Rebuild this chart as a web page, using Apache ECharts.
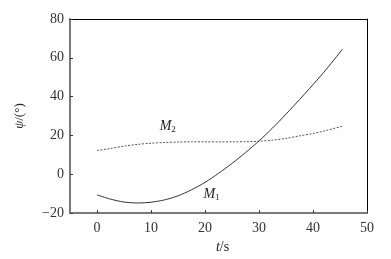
<!DOCTYPE html>
<html><head><meta charset="utf-8">
<script src="https://cdn.jsdelivr.net/npm/echarts@6/dist/echarts.min.js"></script>
<style>html,body{margin:0;padding:0;background:#fff}#c{width:391px;height:259px}</style>
</head><body><div id="c"></div>
<script>
var tValues = [0, 2.5, 5, 7.5, 10, 12.5, 15, 17.5, 20, 22.5, 25, 27.5, 30, 32.5, 35, 37.5, 40, 42.5, 45.5];
var m1Values = [-10.6, -12.8, -14.3, -14.8, -14.4, -13.2, -11.1, -8.0, -4.2, 0.5, 5.6, 11.2, 17.2, 23.8, 31.0, 38.5, 46.2, 54.2, 64.6];
var m2Values = [12.2, 13.3, 14.5, 15.4, 16.0, 16.4, 16.6, 16.7, 16.7, 16.7, 16.7, 16.8, 17.0, 17.6, 18.5, 19.8, 21.0, 22.6, 24.8];
var xTicks = [0, 10, 20, 30, 40, 50];
var curveNames = ['M1', 'M2'];

function pairs(xs, ys){ return xs.map(function(x,i){ return [x, ys[i]]; }); }
var font = 'Liberation Serif';
var chart = echarts.init(document.getElementById('c'), null, {renderer:'canvas'});
var gray = '#7a7a7a';
chart.setOption({
  animation:false,
  backgroundColor:'#fff',
  grid:{left:70, top:19, right:24, bottom:42, containLabel:false},
  xAxis:[{
    type:'value', min:-5, max:50,
    name:'{i|t}/s', nameLocation:'middle', nameGap:18,
    nameTextStyle:{fontFamily:font, fontSize:14, color:'#222', padding:[0,0,0,8], rich:{i:{fontFamily:font, fontStyle:'italic', fontSize:14, color:'#222'}}},
    axisLine:{show:true, onZero:false, lineStyle:{color:gray, width:2}},
    axisTick:{show:true, inside:true, length:3, customValues:xTicks, lineStyle:{color:'#333'}},
    axisLabel:{customValues:xTicks, fontFamily:font, fontSize:14, color:'#333', margin:8},
    splitLine:{show:false}
  },{
    type:'value', min:-5, max:50, position:'top',
    axisLine:{show:true, onZero:false, lineStyle:{color:'#000', width:1}},
    axisTick:{show:false}, axisLabel:{show:false}, splitLine:{show:false}
  }],
  yAxis:[{
    type:'value', min:-20, max:80, interval:20,
    name:'{i|ψ}/(°)', nameLocation:'middle', nameGap:44,
    nameTextStyle:{fontFamily:font, fontSize:13, color:'#222', rich:{i:{fontFamily:font, fontStyle:'italic', fontSize:13, color:'#222'}}},
    axisLine:{show:true, onZero:false, lineStyle:{color:gray, width:2}},
    axisTick:{show:true, inside:true, length:3, lineStyle:{color:'#333'}},
    axisLabel:{fontFamily:font, fontSize:14, color:'#333', margin:6,
      formatter:function(v){ return v < 0 ? '\u2212' + Math.abs(v) : String(v); }},
    splitLine:{show:false}
  },{
    type:'value', min:-20, max:80, position:'right',
    axisLine:{show:true, onZero:false, lineStyle:{color:'#000', width:1}},
    axisTick:{show:false}, axisLabel:{show:false}, splitLine:{show:false}
  }],
  series:[{
    name:curveNames[0], type:'line', smooth:0.3, symbol:'none',
    data:pairs(tValues, m1Values),
    lineStyle:{color:'#333', width:1}
  },{
    name:curveNames[1], type:'line', smooth:0.3, symbol:'none',
    data:pairs(tValues, m2Values),
    lineStyle:{color:'#555', width:1, type:[2,1.5]}
  }]
});
function labelAt(t, v, sub){
  var p = chart.convertToPixel({gridIndex:0}, [t, v]);
  return {type:'text', x:p[0], y:p[1], style:{
    text:'{m|M}{s|' + sub + '}', align:'center', verticalAlign:'middle',
    rich:{m:{fontFamily:font, fontStyle:'italic', fontSize:14, fill:'#222'},
          s:{fontFamily:font, fontSize:9, fill:'#222', padding:[6,0,0,0]}}
  }};
}
chart.setOption({graphic:[labelAt(13.1, 24.5, '2'), labelAt(21.2, -10.4, '1')]});
</script></body></html>
